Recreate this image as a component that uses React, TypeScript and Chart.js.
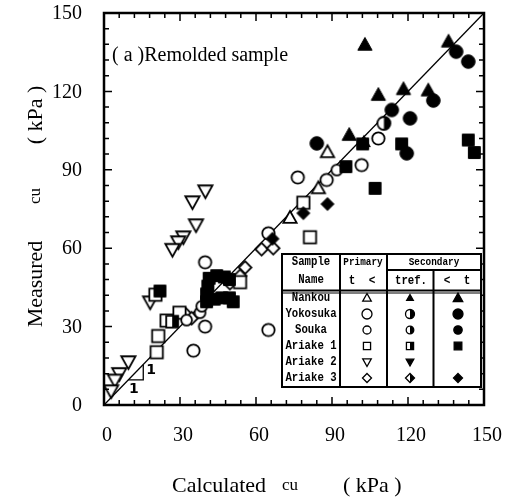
import React, { useEffect, useRef } from "react";
import { Chart, registerables } from "chart.js";

Chart.register(...registerables);

type Pt = { x: number; y: number };

// ---------- axis data ----------
const xTickValues = [0, 30, 60, 90, 120, 150];
const yTickValues = [0, 30, 60, 90, 120, 150];
const minorStep = 6;

// ---------- series ----------
const nankouPrimary: Pt[] = [
  { x: 88.2, y: 96.7 }, { x: 84.6, y: 82.9 }, { x: 73.4, y: 71.6 },
];
const nankouTref: Pt[] = [{ x: 102.6, y: 100.6 }];
const nankouSecondary: Pt[] = [
  { x: 103, y: 137.8 }, { x: 108.3, y: 118.6 }, { x: 118.2, y: 120.8 },
  { x: 128, y: 120.3 }, { x: 136, y: 139 }, { x: 96.8, y: 103.3 },
];
const yokosukaPrimary: Pt[] = [
  { x: 39.9, y: 54.6 }, { x: 39.9, y: 30 }, { x: 35.3, y: 20.8 }, { x: 64.9, y: 28.7 },
  { x: 64.9, y: 65.7 }, { x: 76.5, y: 87.1 }, { x: 101.7, y: 91.8 }, { x: 108.3, y: 102 },
  { x: 87.9, y: 86.1 },
];
const yokosukaTref: Pt[] = [{ x: 110.5, y: 107.8 }];
const yokosukaSecondary: Pt[] = [
  { x: 139, y: 135.2 }, { x: 143.8, y: 131.4 }, { x: 130, y: 116.5 }, { x: 113.6, y: 112.9 },
  { x: 120.8, y: 109.7 }, { x: 84, y: 100.1 }, { x: 119.5, y: 96.3 },
];
const soukaPrimary: Pt[] = [
  { x: 37.9, y: 35.3 }, { x: 32.6, y: 32.5 }, { x: 91.9, y: 89.9 }, { x: 38.6, y: 37.8 },
];
const ariake1Primary: Pt[] = [
  { x: 21.4, y: 26.4 }, { x: 20.8, y: 20.2 }, { x: 24.7, y: 32.3 }, { x: 29.8, y: 35.3 },
  { x: 53.7, y: 47 }, { x: 78.7, y: 77.4 }, { x: 81.3, y: 64.2 }, { x: 20.3, y: 42.2 },
];
const ariake1Tref: Pt[] = [{ x: 26.9, y: 31.9 }];
const ariake1Secondary: Pt[] = [
  { x: 95.5, y: 91.2 }, { x: 102.1, y: 99.9 }, { x: 107, y: 82.9 }, { x: 117.5, y: 99.9 },
  { x: 143.8, y: 101.4 }, { x: 146.2, y: 96.6 }, { x: 22.1, y: 43.6 },
  { x: 41.5, y: 48.5 }, { x: 44.5, y: 49.5 }, { x: 47.5, y: 49 }, { x: 49.5, y: 48 },
  { x: 41, y: 45.5 }, { x: 40.5, y: 42.5 }, { x: 40.5, y: 39.5 }, { x: 43.5, y: 40.5 },
  { x: 46.5, y: 41 }, { x: 49.5, y: 41 }, { x: 51, y: 39.5 },
];
const ariake2Primary: Pt[] = [
  { x: 40, y: 82 }, { x: 34.9, y: 77.8 }, { x: 36.3, y: 69 }, { x: 31.3, y: 64.4 },
  { x: 29.3, y: 62.5 }, { x: 27, y: 59.6 }, { x: 18.2, y: 39.5 }, { x: 9.6, y: 16.6 },
  { x: 6, y: 12.1 }, { x: 4.3, y: 9.6 }, { x: 2.8, y: 5.5 },
];
const ariake3Primary: Pt[] = [
  { x: 62.2, y: 59.6 }, { x: 66.8, y: 60 }, { x: 55.7, y: 52.6 }, { x: 53.7, y: 49.4 },
  { x: 49.7, y: 46.6 }, { x: 32.3, y: 34.7 }, { x: 34.6, y: 33.2 },
];
const ariake3Secondary: Pt[] = [
  { x: 88.2, y: 76.9 }, { x: 78.7, y: 73.4 }, { x: 66.5, y: 63.6 },
];

const unityLine: Pt[] = [{ x: 0, y: 0 }, { x: 150, y: 150 }];
const slopeMark: Pt[] = [{ x: 9.6, y: 9.6 }, { x: 15.5, y: 9.6 }, { x: 15.5, y: 15.5 }];
const slopeLabels = [
  { x: 18.6, y: 13.4, text: "1" },
  { x: 11.8, y: 5.8, text: "1" },
];

const sampleNames = ["Nankou", "Yokosuka", "Souka", "Ariake 1", "Ariake 2", "Ariake 3"];

// ---------- symbols ----------
type Shape = "triUp" | "triDown" | "circle" | "square" | "diamond";
type Fill = "open" | "half" | "solid";

function pathShape(ctx: CanvasRenderingContext2D, shape: Shape, cx: number, cy: number, r: number) {
  ctx.beginPath();
  switch (shape) {
    case "circle":
      ctx.arc(cx, cy, r, 0, Math.PI * 2);
      break;
    case "triUp":
      ctx.moveTo(cx, cy - r);
      ctx.lineTo(cx + r * 0.95, cy + r * 0.7);
      ctx.lineTo(cx - r * 0.95, cy + r * 0.7);
      ctx.closePath();
      break;
    case "triDown":
      ctx.moveTo(cx, cy + r);
      ctx.lineTo(cx + r * 0.95, cy - r * 0.7);
      ctx.lineTo(cx - r * 0.95, cy - r * 0.7);
      ctx.closePath();
      break;
    case "square":
      ctx.rect(cx - r * 0.85, cy - r * 0.85, r * 1.7, r * 1.7);
      break;
    case "diamond":
      ctx.moveTo(cx, cy - r);
      ctx.lineTo(cx + r, cy);
      ctx.lineTo(cx, cy + r);
      ctx.lineTo(cx - r, cy);
      ctx.closePath();
      break;
  }
}

function drawSymbol(ctx: CanvasRenderingContext2D, shape: Shape, fill: Fill, cx: number, cy: number, r: number, lw: number) {
  ctx.save();
  pathShape(ctx, shape, cx, cy, r);
  ctx.fillStyle = fill === "solid" ? "#000" : "#fff";
  ctx.fill();
  if (fill === "half") {
    ctx.save();
    ctx.clip();
    ctx.fillStyle = "#000";
    ctx.fillRect(cx, cy - r - 2, r + 2, 2 * r + 4);
    ctx.restore();
    pathShape(ctx, shape, cx, cy, r);
  }
  ctx.lineWidth = lw;
  ctx.strokeStyle = "#000";
  ctx.lineJoin = "miter";
  ctx.stroke();
  ctx.restore();
}

function makeSymbol(shape: Shape, fill: Fill, r: number, lw: number): HTMLCanvasElement {
  const s = Math.ceil(2 * r + lw + 4);
  const c = document.createElement("canvas");
  c.width = s;
  c.height = s;
  const ctx = c.getContext("2d")!;
  drawSymbol(ctx, shape, fill, s / 2, s / 2, r, lw);
  return c;
}

const SERIF = '"Liberation Serif", "Times New Roman", serif';
const MONO = '"Liberation Mono", "DejaVu Sans Mono", monospace';

function txt(ctx: CanvasRenderingContext2D, s: string, x: number, y: number, font: string, align: CanvasTextAlign = "center", sx = 1) {
  ctx.save();
  ctx.translate(x, y);
  ctx.scale(sx, 1);
  ctx.font = font;
  ctx.textAlign = align;
  ctx.textBaseline = "middle";
  ctx.fillStyle = "#000";
  ctx.fillText(s, 0, 0);
  ctx.restore();
}

// legend table rows: [primary, tref, secondary]
type Sym = { shape: Shape; fill: Fill; r: number } | null;
const legendSymbols: Sym[][] = [
  [{ shape: "triUp", fill: "open", r: 4.5 }, { shape: "triUp", fill: "solid", r: 3.5 }, { shape: "triUp", fill: "solid", r: 5 }],
  [{ shape: "circle", fill: "open", r: 5 }, { shape: "circle", fill: "half", r: 4.5 }, { shape: "circle", fill: "solid", r: 5 }],
  [{ shape: "circle", fill: "open", r: 4 }, { shape: "circle", fill: "half", r: 3.8 }, { shape: "circle", fill: "solid", r: 4.2 }],
  [{ shape: "square", fill: "open", r: 4.2 }, { shape: "square", fill: "half", r: 4.2 }, { shape: "square", fill: "solid", r: 4.5 }],
  [{ shape: "triDown", fill: "open", r: 4.5 }, { shape: "triDown", fill: "solid", r: 4 }, null],
  [{ shape: "diamond", fill: "open", r: 4.5 }, { shape: "diamond", fill: "half", r: 4.5 }, { shape: "diamond", fill: "solid", r: 4.5 }],
];

const decorPlugin = {
  id: "decor",
  afterDraw(chart: any) {
    const { ctx, chartArea: a, scales } = chart;
    const xs = scales.x;
    const ys = scales.y;
    ctx.save();
    // inward ticks on all four sides
    ctx.strokeStyle = "#000";
    ctx.lineWidth = 1.5;
    for (let v = 0; v <= 150; v += minorStep) {
      const len = v % 30 === 0 ? 8 : 5;
      const px = xs.getPixelForValue(v);
      const py = ys.getPixelForValue(v);
      ctx.beginPath();
      ctx.moveTo(px, a.bottom); ctx.lineTo(px, a.bottom - len);
      ctx.moveTo(px, a.top); ctx.lineTo(px, a.top + len);
      ctx.moveTo(a.left, py); ctx.lineTo(a.left + len, py);
      ctx.moveTo(a.right, py); ctx.lineTo(a.right - len, py);
      ctx.stroke();
    }
    ctx.lineWidth = 2.5;
    ctx.strokeRect(a.left, a.top, a.right - a.left, a.bottom - a.top);

    // tick labels
    const tickFont = `20px ${SERIF}`;
    xTickValues.forEach((v) => txt(ctx, String(v), xs.getPixelForValue(v) + 3, 436, tickFont, "center"));
    yTickValues.forEach((v) => txt(ctx, String(v), 82, ys.getPixelForValue(v) + 1, tickFont, "right"));

    // axis titles
    ctx.fillStyle = "#000";
    ctx.textBaseline = "alphabetic";
    ctx.textAlign = "left";
    ctx.font = `22px ${SERIF}`;
    ctx.fillText("Calculated", 172, 492);
    ctx.font = `17px ${SERIF}`;
    ctx.fillText("cu", 282, 490);
    ctx.font = `22px ${SERIF}`;
    ctx.fillText("( kPa )", 343, 492);

    ctx.save();
    ctx.translate(42, 0);
    ctx.rotate(-Math.PI / 2);
    ctx.textAlign = "center";
    ctx.font = `22px ${SERIF}`;
    ctx.fillText("Measured", -284, 0);
    ctx.font = `17px ${SERIF}`;
    ctx.fillText("cu", -196, -2);
    ctx.font = `22px ${SERIF}`;
    ctx.fillText("( kPa )", -115, 0);
    ctx.restore();

    // panel label
    ctx.textAlign = "left";
    ctx.textBaseline = "alphabetic";
    ctx.font = `20px ${SERIF}`;
    ctx.fillText("( a )Remolded sample", 112, 61);

    // slope labels
    slopeLabels.forEach((s) => {
      txt(ctx, s.text, xs.getPixelForValue(s.x), ys.getPixelForValue(s.y), `bold 14px "DejaVu Sans", sans-serif`, "center");
    });

    // legend table
    const L = 282, R = 481, T = 254, B = 387;
    const c1 = 340, c2 = 387, c3 = 433.5, hMid = 270, hBot = 290.5;
    ctx.fillStyle = "#fff";
    ctx.fillRect(L, T, R - L, B - T);
    ctx.strokeStyle = "#000";
    ctx.lineWidth = 2;
    ctx.strokeRect(L, T, R - L, B - T);
    ctx.beginPath();
    ctx.moveTo(L, hBot); ctx.lineTo(R, hBot);
    ctx.moveTo(c1, T); ctx.lineTo(c1, B);
    ctx.moveTo(c2, T); ctx.lineTo(c2, B);
    ctx.moveTo(c2, hMid); ctx.lineTo(R, hMid);
    ctx.moveTo(c3, hMid); ctx.lineTo(c3, B);
    ctx.stroke();
    ctx.lineWidth = 1;
    ctx.beginPath();
    ctx.moveTo(L, hBot + 2.5); ctx.lineTo(R, hBot + 2.5);
    ctx.stroke();

    const bodyFont = `bold 13px ${MONO}`;
    const headFont = `bold 11px ${MONO}`;
    txt(ctx, "Sample", 311, 262, bodyFont, "center", 0.82);
    txt(ctx, "Name", 311, 280, bodyFont, "center", 0.82);
    txt(ctx, "Primary", 363, 262, headFont, "center", 0.85);
    txt(ctx, "t  <", 362, 281, bodyFont, "center", 0.85);
    txt(ctx, "Secondary", 434, 262, headFont, "center", 0.85);
    txt(ctx, "tref.", 411, 281, bodyFont, "center", 0.82);
    txt(ctx, "<  t", 457, 281, bodyFont, "center", 0.85);

    const rowY = [298, 314, 330, 346, 362, 378];
    const colX = [367, 410, 458];
    sampleNames.forEach((n, i) => {
      txt(ctx, n, 311, rowY[i], bodyFont, "center", 0.82);
      legendSymbols[i].forEach((s, j) => {
        if (s) drawSymbol(ctx, s.shape, s.fill, colX[j], rowY[i], s.r, 1.3);
      });
    });
    ctx.restore();
  },
};

export default function App() {
  const ref = useRef<HTMLCanvasElement | null>(null);

  useEffect(() => {
    if (!ref.current) return;
    const sym = {
      triUpOpen: makeSymbol("triUp", "open", 7, 1.8),
      triUpHalf: makeSymbol("triUp", "solid", 6, 1.5),
      triUpSolid: makeSymbol("triUp", "solid", 7.5, 1),
      circleOpen: makeSymbol("circle", "open", 6.2, 1.8),
      circleSmall: makeSymbol("circle", "open", 5.4, 1.8),
      circleHalf: makeSymbol("circle", "half", 6.5, 1.8),
      circleSolid: makeSymbol("circle", "solid", 6.8, 1),
      squareOpen: makeSymbol("square", "open", 7.2, 1.8),
      squareHalf: makeSymbol("square", "half", 7, 1.8),
      squareSolid: makeSymbol("square", "solid", 7, 1),
      triDownOpen: makeSymbol("triDown", "open", 7.5, 1.8),
      diamondOpen: makeSymbol("diamond", "open", 6.3, 1.8),
      diamondSolid: makeSymbol("diamond", "solid", 6.5, 1),
    };
    const pts = (data: Pt[], style: HTMLCanvasElement) => ({
      type: "scatter" as const,
      data,
      pointStyle: style,
      pointRadius: 4,
      showLine: false,
    });
    const chart = new Chart(ref.current, {
      type: "scatter",
      data: {
        datasets: [
          pts(ariake1Secondary, sym.squareSolid),
          pts(nankouSecondary, sym.triUpSolid),
          pts(yokosukaSecondary, sym.circleSolid),
          pts(ariake3Secondary, sym.diamondSolid),
          pts(nankouTref, sym.triUpHalf),
          pts(yokosukaTref, sym.circleHalf),
          pts(ariake1Tref, sym.squareHalf),
          pts(nankouPrimary, sym.triUpOpen),
          pts(yokosukaPrimary, sym.circleOpen),
          pts(soukaPrimary, sym.circleSmall),
          pts(ariake1Primary, sym.squareOpen),
          pts(ariake2Primary, sym.triDownOpen),
          pts(ariake3Primary, sym.diamondOpen),
          {
            type: "line" as const,
            data: unityLine,
            borderColor: "#000",
            borderWidth: 1.3,
            pointRadius: 0,
            showLine: true,
            fill: false,
          },
          {
            type: "line" as const,
            data: slopeMark,
            borderColor: "#000",
            borderWidth: 1.3,
            pointRadius: 0,
            showLine: true,
            fill: false,
          },
        ] as any,
      },
      options: {
        responsive: false,
        devicePixelRatio: 1,
        animation: false,
        layout: { padding: { left: 104, right: 25, top: 13, bottom: 99 } },
        scales: {
          x: { type: "linear", display: false, min: 0, max: 150 },
          y: { type: "linear", display: false, min: 0, max: 150 },
        },
        plugins: { legend: { display: false }, tooltip: { enabled: false } },
        events: [],
      },
      plugins: [decorPlugin],
    });
    return () => chart.destroy();
  }, []);

  return (
    <canvas
      ref={ref}
      width={509}
      height={504}
      style={{ position: "absolute", left: 0, top: 0, width: 509, height: 504, background: "#fff" }}
    />
  );
}
